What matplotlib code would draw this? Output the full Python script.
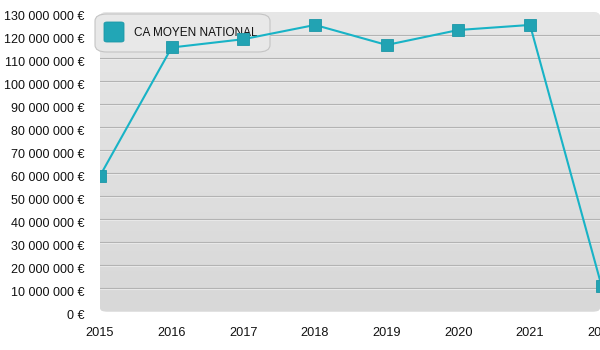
import numpy as np
import matplotlib
matplotlib.use("Agg")
import matplotlib.pyplot as plt
from matplotlib.patches import FancyBboxPatch
from matplotlib.ticker import FuncFormatter, MultipleLocator
import matplotlib.transforms as mtransforms

plt.rcParams['font.family'] = ['Liberation Sans', 'DejaVu Sans']

years = [2015, 2016, 2017, 2018, 2019, 2020, 2021, 2022]
ca_moyen = [58.9e6, 114.7e6, 118.3e6, 124.5e6, 115.8e6, 122.3e6, 124.5e6, 10.8e6]
series_label = "CA MOYEN NATIONAL"

W, H = 600, 350
fig = plt.figure(figsize=(6, 3.5), dpi=100)
fig.patch.set_facecolor('white')

def fx(x):
    return x / W

def fy(y):
    return 1 - y / H

# axes region (pixels)
x0, x1 = 100, 601.7
y_top, y_bot = 12.3, 311.3
ax = fig.add_axes([fx(x0), fy(y_bot), fx(x1) - fx(x0), fy(y_top) - fy(y_bot)])
ax.set_xlim(2015, 2022)
ax.set_ylim(0, 130e6)
ax.patch.set_visible(False)
for s in ax.spines.values():
    s.set_visible(False)

# rounded gradient background
bg = FancyBboxPatch((fx(100), fy(312)), fx(600) - fx(100), fy(12) - fy(312),
                    boxstyle="round,pad=0,rounding_size=0.013",
                    transform=fig.transFigure, facecolor='#e2e2e2', edgecolor='none',
                    zorder=0, clip_on=False)
ax.add_patch(bg)
grad = np.linspace(0, 1, 256).reshape(-1, 1)
cmap = matplotlib.colors.LinearSegmentedColormap.from_list('g', ['#e7e7e7', '#d8d8d8'])
im = ax.imshow(grad, cmap=cmap, aspect='auto', extent=[fx(100), fx(600), fy(312), fy(12)],
               transform=fig.transFigure, zorder=0.1, clip_on=True)
im.set_clip_path(bg)

# gridlines
for v in np.arange(10e6, 125e6, 10e6):
    ax.axhline(v, color='#b3b3b3', lw=0.8, zorder=1)
    ax.plot([0, 1], [v, v], transform=ax.get_yaxis_transform() + mtransforms.ScaledTranslation(0, -1/100, fig.dpi_scale_trans),
            color='#f0f0f0', lw=0.6, zorder=0.9)

# legend (drawn beneath the series)
leg = FancyBboxPatch((fx(95), fy(52)), fx(270) - fx(95), fy(14) - fy(52),
                     boxstyle="round,pad=0,rounding_size=0.02",
                     transform=fig.transFigure, facecolor='#e8e8e8', edgecolor='#c4c4c4',
                     lw=0.8, zorder=2, clip_on=False)
ax.add_patch(leg)
lm = FancyBboxPatch((fx(104), fy(42)), fx(124) - fx(104), fy(22) - fy(42),
                    boxstyle="round,pad=0,rounding_size=0.005",
                    transform=fig.transFigure, facecolor='#22a6b6', edgecolor='#1b97a7',
                    lw=0.6, zorder=2.1, clip_on=False)
ax.add_patch(lm)
ax.text(fx(134), fy(33), series_label, transform=fig.transFigure, fontsize=8.5,
        color='#111111', va='center', ha='left', zorder=2.2)

# series
ax.plot(years, ca_moyen, color='#18b3c6', lw=1.5, zorder=3)
ax.plot(years, ca_moyen, ls='none', marker='s', ms=8.0, mfc='#22a3b3', mec='#1c97a7',
        mew=0.6, zorder=4)

# ticks
ax.yaxis.set_major_locator(MultipleLocator(10e6))
def fmt(v, pos):
    n = int(round(v))
    s = f"{n:,}".replace(",", " ")
    return f"{s} €"
ax.yaxis.set_major_formatter(FuncFormatter(fmt))
ax.set_xticks(years)
ax.set_xticklabels([str(y) for y in years])
ax.tick_params(axis='y', length=0, pad=11, labelsize=9, labelcolor='#111111')
ax.tick_params(axis='x', length=0, pad=11.5, labelsize=9.2, labelcolor='#111111')
off = mtransforms.ScaledTranslation(0, -3/100, fig.dpi_scale_trans)
for lab in ax.get_yticklabels():
    lab.set_transform(lab.get_transform() + off)
for lab in ax.get_xticklabels():
    lab.set_clip_on(False)

fig.savefig('out.png', dpi=100, facecolor='white')
